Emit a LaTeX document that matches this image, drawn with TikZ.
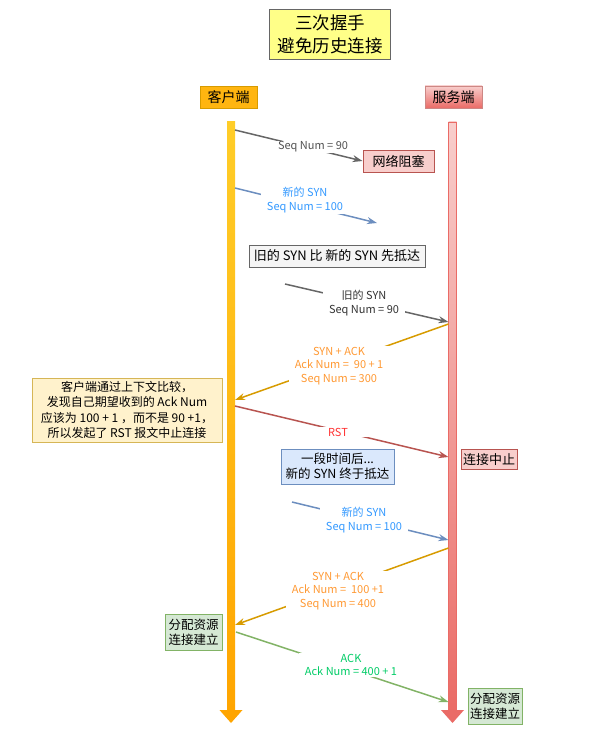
\documentclass[tikz,border=0pt]{standalone}
\usepackage{fontspec}
\setmainfont{Noto Sans CJK SC}
\usepackage{xcolor}
\usetikzlibrary{positioning, arrows.meta}

\definecolor{cliTop}{HTML}{FFCD28}
\definecolor{cliBot}{HTML}{FFA500}
\definecolor{cliLine}{HTML}{D79B00}
\definecolor{srvTop}{HTML}{F8CECC}
\definecolor{srvBot}{HTML}{EA6B66}
\definecolor{srvLine}{HTML}{B85450}
\definecolor{blueLine}{HTML}{6C8EBF}
\definecolor{blueText}{HTML}{3399FF}
\definecolor{blueFill}{HTML}{DAE8FC}
\definecolor{goldLine}{HTML}{D79B00}
\definecolor{goldText}{HTML}{FF9933}
\definecolor{greenLine}{HTML}{82B366}
\definecolor{greenText}{HTML}{00CC66}
\definecolor{greenFill}{HTML}{D5E8D4}
\definecolor{noteFill}{HTML}{FFF2CC}
\definecolor{noteLine}{HTML}{D6B656}
\definecolor{grayLine}{HTML}{666666}
\definecolor{grayFill}{HTML}{F5F5F5}
\definecolor{titleFill}{HTML}{FFFF88}
\definecolor{rstText}{HTML}{FF3333}

\tikzset{
  box/.style={draw, line width=0.9pt, inner sep=0pt, align=center},
  msg/.style={line width=1.5pt, -{Stealth[length=10pt,width=7pt]}},
  lbl/.style={fill=white, inner xsep=6pt, inner ysep=1pt, align=center, font=\fontsize{11}{13.5}\selectfont},
  boxtext/.style={font=\fontsize{13}{15}\selectfont},
}

\begin{document}
\begin{tikzpicture}[x=1pt, y=-1pt]
\useasboundingbox (0,0) rectangle (598,735);

\node (title) [box, draw=grayLine, fill=titleFill, minimum width=121, minimum height=50,
  font=\fontsize{17.5}{23}\selectfont] at (330,34) {三次握手\\避免历史连接};
\node (client) [box, draw=cliLine, fill=cliTop!40!cliBot, minimum width=57, minimum height=22,
  font=\fontsize{14}{16}\selectfont] at (228.5,97) {客户端};
\node (server) [box, draw=srvLine!70, top color=srvTop, bottom color=srvBot, minimum width=57,
  minimum height=22, font=\fontsize{14}{16}\selectfont] at (453.5,97) {服务端};

\shade[top color=cliTop, bottom color=cliBot] (227,122) rectangle (235,711);
\fill[cliBot] (219.5,710) -- (242.5,710) -- (231,723) -- cycle;
\shade[top color=srvTop, bottom color=srvBot, draw=srvBot, line width=0.6pt] (448.5,122) rectangle (456.5,711);
\fill[srvBot] (441,710) -- (464,710) -- (452.5,723) -- cycle;

\node (net) [box, boxtext, draw=srvLine, fill=srvTop, minimum width=71, minimum height=22] at (398.5,161) {网络阻塞};
\node (older) [box, boxtext, draw=grayLine, fill=grayFill, minimum width=176, minimum height=22] at (337,256) {旧的 SYN 比 新的 SYN 先抵达};
\node (note) [box, draw=noteLine, fill=noteFill, minimum width=190, minimum height=64,
  font=\fontsize{12}{15.2}\selectfont] at (127,410) {客户端通过上下文比较，\\发现自己期望收到的 Ack Num\\应该为 100 + 1 ，而不是 90 +1，\\所以发起了 RST 报文中止连接};
\node (stop) [box, boxtext, draw=srvLine, fill=srvTop, minimum width=56, minimum height=20] at (489,459.5) {连接中止};
\node (later) [box, draw=blueLine, fill=blueFill, minimum width=113, minimum height=35,
  font=\fontsize{12.5}{15}\selectfont] at (337.5,466.5) {一段时间后...\\新的 SYN 终于抵达};
\node (allocC) [box, draw=greenLine, fill=greenFill, minimum width=57, minimum height=36,
  font=\fontsize{12.5}{15}\selectfont] at (193.5,632) {分配资源\\连接建立};
\node (allocS) [box, draw=greenLine, fill=greenFill, minimum width=54, minimum height=36,
  font=\fontsize{12.5}{15}\selectfont] at (495,706) {分配资源\\连接建立};

\coordinate (c1) at (235,130);
\coordinate (c2) at (235,188);
\coordinate (f2) at (377,223);
\coordinate (o3) at (285,284);
\coordinate (s3) at (448.5,322);
\coordinate (s4) at (448.5,324);
\coordinate (c4) at (235,400);
\coordinate (c5) at (235,406);
\coordinate (s5) at (448.5,457);
\coordinate (o6) at (292,502);
\coordinate (s6) at (448.5,540);
\coordinate (s7) at (448.5,548);
\coordinate (c7) at (235,625);
\coordinate (c8) at (236,632);
\coordinate (s8) at (448.5,702);

\draw[msg, grayLine] (c1) -- (net.west);
\draw[msg, blueLine] (c2) -- (f2);
\draw[msg, grayLine] (o3) -- (s3);
\draw[msg, goldLine] (s4) -- (c4);
\draw[msg, srvLine] (c5) -- (s5);
\draw[msg, blueLine] (o6) -- (s6);
\draw[msg, goldLine] (s7) -- (c7);
\draw[msg, greenLine] (c8) -- (s8);

\node (l1) [lbl, text=grayLine!80!black] at (313,147) {Seq Num = 90};
\node (l2) [lbl, text=blueText] at (305,200) {新的 SYN\\Seq Num = 100};
\node (l3) [lbl, text=black!80] at (364,303) {旧的 SYN\\Seq Num = 90};
\node (l4) [lbl, text=goldText] at (339,366) {SYN + ACK\\Ack Num =\ \ 90 + 1\\Seq Num = 300};
\node (l5) [lbl, text=rstText, minimum width=60] at (338,432) {RST};
\node (l6) [lbl, text=blueText] at (364,520) {新的 SYN\\Seq Num = 100};
\node (l7) [lbl, text=goldText] at (338,591) {SYN + ACK\\Ack Num =\ \ 100 +1\\Seq Num = 400};
\node (l8) [lbl, text=greenText] at (351,665) {ACK\\Ack Num = 400 + 1};
\end{tikzpicture}
\end{document}
